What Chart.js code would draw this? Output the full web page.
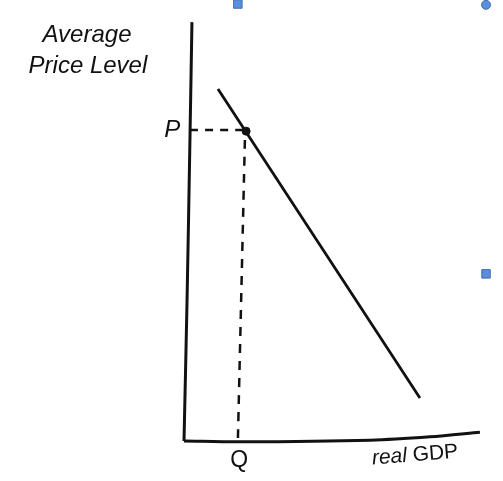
<!DOCTYPE html>
<html>
<head>
<meta charset="utf-8">
<script src="https://cdn.jsdelivr.net/npm/chart.js@4"></script>
<style>
  body { margin: 0; background: #fff; }
  canvas { display: block; }
</style>
</head>
<body>
<canvas id="chart" width="503" height="481"></canvas>
<script>
// Diagram coordinates: real GDP along x (axis corner = 0), price level along y (axis corner = 0)
const yAxisLine = [{x: 2.6, y: 99.5}, {x: 2.0, y: 73.9}, {x: 1.0, y: 33.5}, {x: 0, y: 0}];
const xAxisLine = [{x: 0, y: 0}, {x: 18.3, y: -0.2}, {x: 60.8, y: 0.2}, {x: 80.4, y: 1.0}, {x: 96.7, y: 2.1}];
const demandLine = [{x: 11.1, y: 83.6}, {x: 77.1, y: 10.2}];
const equilibrium = [{x: 20.3, y: 73.6}];
const priceGuide = [{x: 2.0, y: 73.9}, {x: 20.3, y: 73.9}];
const quantityGuide = [{x: 19.9, y: 71.5}, {x: 17.6, y: 0}];
const handlesSquare = [{x: 17.6, y: 103.8}, {x: 98.7, y: 39.7}];
const handlesCircle = [{x: 98.7, y: 103.6}];

// text labels: [text, x, y]
const axisTitleY = [["Average", -31.7, 96.4], ["Price Level", -31.4, 89.1]];
const tickLabels = [["P", -3.8, 73.9], ["Q", 18.0, -4.6]];
const axisTitleX = ["real ", "GDP", 75.5, -3.4];

const textPlugin = {
  id: 'labels',
  afterDatasetsDraw(chart) {
    const ctx = chart.ctx;
    const xs = chart.scales.x, ys = chart.scales.y;
    ctx.save();
    ctx.fillStyle = '#111';
    ctx.textAlign = 'center';
    ctx.textBaseline = 'middle';
    ctx.font = 'italic 24px "Liberation Sans", Arial, sans-serif';
    axisTitleY.forEach(t => ctx.fillText(t[0], xs.getPixelForValue(t[1]), ys.getPixelForValue(t[2])));
    ctx.fillText(tickLabels[0][0], xs.getPixelForValue(tickLabels[0][1]), ys.getPixelForValue(tickLabels[0][2]));
    ctx.font = '23px "Liberation Sans", Arial, sans-serif';
    ctx.fillText(tickLabels[1][0], xs.getPixelForValue(tickLabels[1][1]), ys.getPixelForValue(tickLabels[1][2]));

    // "real GDP", tilted a little along the curving axis
    ctx.translate(xs.getPixelForValue(axisTitleX[2]), ys.getPixelForValue(axisTitleX[3]));
    ctx.rotate(-0.08);
    ctx.textAlign = 'left';
    ctx.font = 'italic 21px "Liberation Sans", Arial, sans-serif';
    const w1 = ctx.measureText(axisTitleX[0]).width;
    ctx.font = '21px "Liberation Sans", Arial, sans-serif';
    const w2 = ctx.measureText(axisTitleX[1]).width;
    const start = -(w1 + w2) / 2;
    ctx.font = 'italic 21px "Liberation Sans", Arial, sans-serif';
    ctx.fillText(axisTitleX[0], start, 0);
    ctx.font = '21px "Liberation Sans", Arial, sans-serif';
    ctx.fillText(axisTitleX[1], start + w1, 0);
    ctx.restore();
  }
};

function lineSet(data, width, dash) {
  return {
    data: data, showLine: true, borderColor: '#111', borderWidth: width,
    borderDash: dash || [], pointRadius: 0, tension: 0.3, clip: false
  };
}

new Chart(document.getElementById('chart').getContext('2d'), {
  type: 'scatter',
  data: {
    datasets: [
      lineSet(yAxisLine, 3),
      lineSet(xAxisLine, 3),
      lineSet(priceGuide, 2.5, [8, 7]),
      lineSet(quantityGuide, 2.5, [9, 8]),
      lineSet(demandLine, 2.8),
      {data: equilibrium, pointRadius: 4, backgroundColor: '#111', borderColor: '#111'},
      {data: handlesSquare, pointStyle: 'rect', pointRadius: 6, backgroundColor: '#5b8fdc', borderColor: '#3d6db5', borderWidth: 1},
      {data: handlesCircle, pointStyle: 'circle', pointRadius: 4.5, backgroundColor: '#5b8fdc', borderColor: '#3d6db5', borderWidth: 1}
    ]
  },
  options: {
    responsive: false,
    animation: false,
    layout: { padding: 0, autoPadding: false },
    plugins: { legend: { display: false }, tooltip: { enabled: false } },
    scales: {
      x: { type: 'linear', min: -60.13, max: 104.25, display: false },
      y: { type: 'linear', min: -9.5, max: 104.75, display: false }
    }
  },
  plugins: [textPlugin]
});
</script>
</body>
</html>
